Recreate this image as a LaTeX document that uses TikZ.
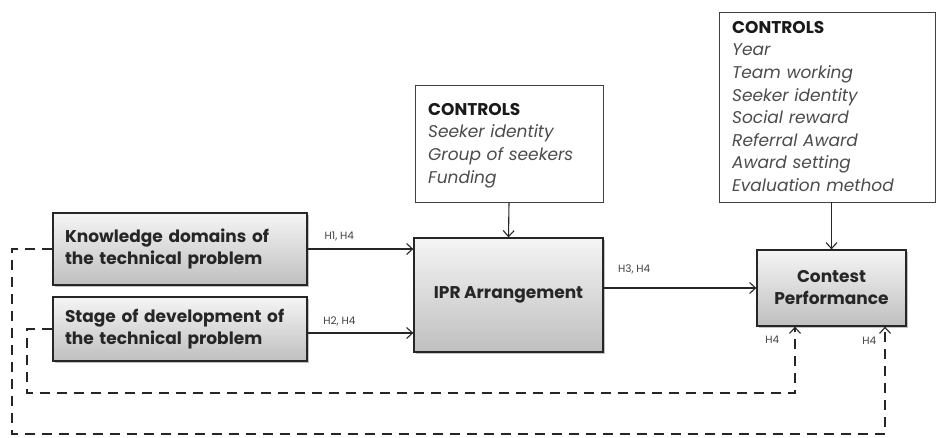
\documentclass[tikz,border=0pt]{standalone}
\usepackage{fontspec}
\setmainfont{Poppins}
\usetikzlibrary{arrows.meta,shadows}
\begin{document}
\begin{tikzpicture}[x=1pt,y=-1pt,
  main/.style={draw=black!85,line width=1.3pt,top color=gray!8,bottom color=gray!50,
     drop shadow={shadow xshift=2pt,shadow yshift=-2pt,fill=black!40,opacity=0.6},
     font=\fontsize{17}{22}\selectfont\bfseries,text=black!85,align=left,inner sep=0pt},
  ctrl/.style={font=\fontsize{17}{22.6}\selectfont,
     align=left,text=black!70,anchor=north west,inner sep=0pt,text width=#1},
  cbox/.style={draw=black!75,line width=0.9pt,fill=white,inner sep=0pt},
  conn/.style={line width=1.1pt,draw=black!85,-{Straight Barb[length=6pt,width=11pt,line width=1.1pt]}},
  dconn/.style={conn,dash pattern=on 10pt off 7pt},
  lab/.style={font=\fontsize{10.5}{12}\selectfont,text=black!75}]
\useasboundingbox (0,0) rectangle (937,437);
\node[main,minimum width=254pt,minimum height=72pt,text width=230pt] (kn) at (180,249) {Knowledge domains of\\the technical problem};
\node[main,minimum width=254pt,minimum height=64pt,text width=230pt] (st) at (180,329) {Stage of development of\\the technical problem};
\node[main,minimum width=189pt,minimum height=114pt,align=center] (ipr) at (508.5,295) {IPR Arrangement};
\node[main,minimum width=149pt,minimum height=76pt,align=center] (ct) at (831.5,288) {Contest\\Performance};
\node[cbox,minimum width=188pt,minimum height=117pt] (c1box) at (509,143.5) {};
\node[ctrl=180pt] (c1) at (428,103) {\textbf{\textcolor{black!90}{CONTROLS}}\\\textit{Seeker identity}\\\textit{Group of seekers}\\\textit{Funding}};
\node[cbox,minimum width=216pt,minimum height=190pt] (c2box) at (827,107) {};
\node[ctrl=200pt] (c2) at (732,21) {\textbf{\textcolor{black!90}{CONTROLS}}\\\textit{Year}\\\textit{Team working}\\\textit{Seeker identity}\\\textit{Social reward}\\\textit{Referral Award}\\\textit{Award setting}\\\textit{Evaluation method}};
\draw[conn] (kn.east) -- (kn.east -| ipr.west) node[lab,pos=0.3,above=4pt] {H1, H4};
\draw[conn] ([yshift=-4pt]st.east) -- ([yshift=-4pt]st.east -| ipr.west) node[lab,pos=0.3,above=3pt] {H2, H4};
\draw[conn] (ct.west -| ipr.east) -- (ct.west) node[lab,pos=0.2,above=10pt] {H3, H4};
\draw[conn] (c1box.south) -- (ipr.north);
\draw[conn] (c2box.south -| ct.north) -- (ct.north);
\coordinate (o1) at (12,434);
\coordinate (i1) at (27,393);
\draw[dconn] (kn.west) -| (o1) -| ([xshift=53.5pt]ct.south) node[lab,pos=0.935,left=5pt] {H4};
\draw[dconn] (st.west) -| (i1) -| ([xshift=-36.5pt]ct.south) node[lab,pos=0.9,left=12pt] {H4};
\end{tikzpicture}
\end{document}
